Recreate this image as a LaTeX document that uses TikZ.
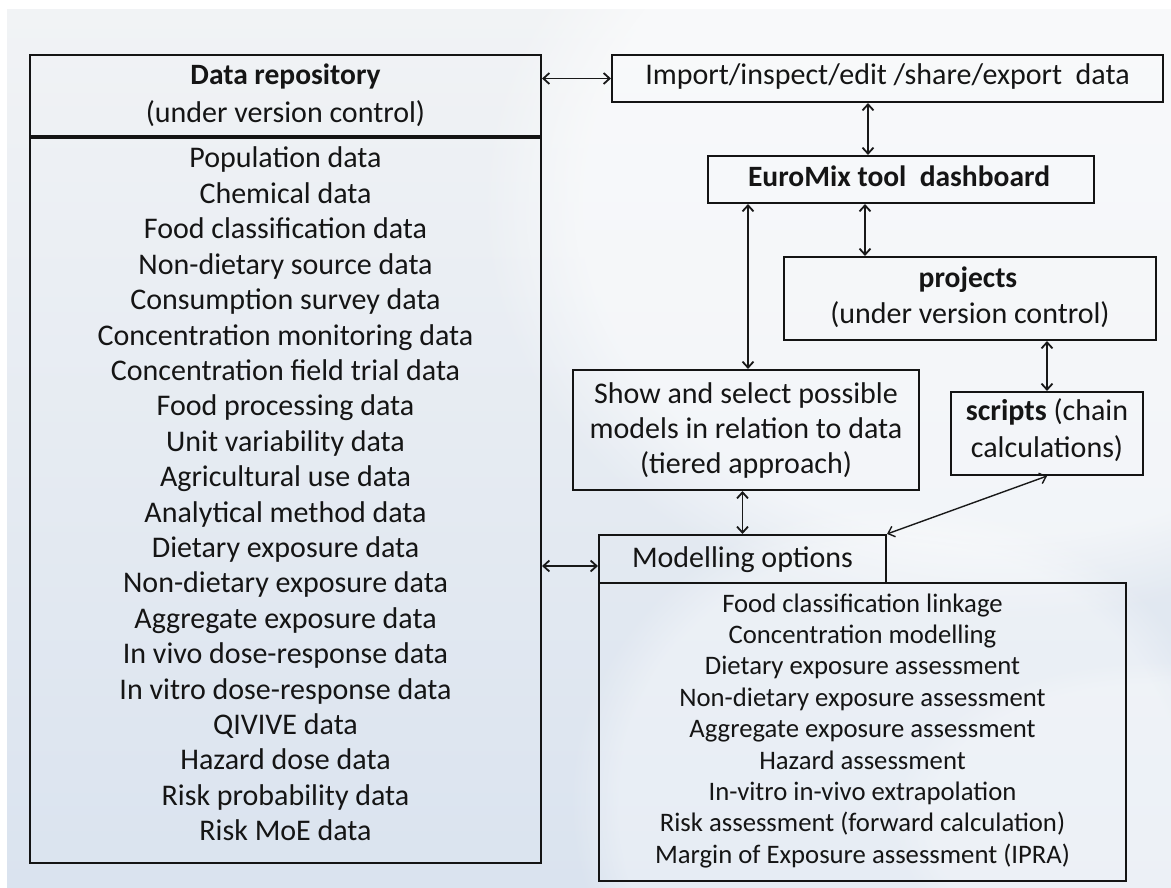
\documentclass[tikz,border=0pt]{standalone}
\usepackage{fontspec}
\setmainfont{Carlito}
\usetikzlibrary{arrows.meta,fadings}
\definecolor{bgtop}{HTML}{F1F3F5}
\definecolor{bgbot}{HTML}{DAE3EF}
\definecolor{ink}{HTML}{151515}
\begin{document}
\begin{tikzpicture}[x=1pt,y=-1pt,
  box/.style={draw=black!92, line width=2.1pt, inner sep=0pt, minimum width=#1},
  lbl/.style={anchor=base, inner sep=0pt, text=ink, font=\fontsize{30}{36}\selectfont},
  lblb/.style={lbl, font=\fontsize{29.5}{36}\selectfont\bfseries},
  optl/.style={anchor=base, inner sep=0pt, text=ink, font=\fontsize{26.7}{31}\selectfont},
  conn/.style={{Straight Barb[length=6pt,width=11pt]}-{Straight Barb[length=6pt,width=11pt]}, line width=1.8pt, draw=black!90}]
\useasboundingbox (0,0) rectangle (1171,888);
% backdrop
\fill[white] (0,0) rectangle (1171,888);
\begin{scope}
  \clip (7,10) rectangle (1171,888);
  \shade[top color=bgtop, bottom color=bgbot] (7,10) rectangle (1171,888);
  \fill[white, opacity=0.55, path fading=circle with fuzzy edge 20 percent] (1000,200) ellipse (520 and 420);
  \fill[white, opacity=0.35, path fading=circle with fuzzy edge 15 percent] (900,800) ellipse (330 and 300);
  \fill[white, opacity=0.25, path fading=circle with fuzzy edge 15 percent] (1150,820) ellipse (260 and 160);
\end{scope}

% data repository
\node[box=511pt, minimum height=81pt] (hdr) at (285.5,95.5) {};
\node[box=511pt, minimum height=725pt] (body) at (285.5,500.5) {};
\node[lblb] at (285.5,85) {Data repository};
\node[lbl] at (285.5,123) {(under version control)};
\foreach \t [count=\i from 0] in {Population data, Chemical data, Food classification data,
  Non-dietary source data, Consumption survey data, Concentration monitoring data,
  Concentration field trial data, Food processing data, Unit variability data,
  Agricultural use data, Analytical method data, Dietary exposure data,
  Non-dietary exposure data, Aggregate exposure data, In vivo dose-response data,
  In vitro dose-response data, QIVIVE data, Hazard dose data, Risk probability data,
  Risk MoE data}
  \node[lbl] (d\i) at (285.5,168+35.4*\i) {\t};

% right column boxes
\node[box=551pt, minimum height=47pt] (imp) at (887.5,78.5) {};
\node[lbl] at (887.5,85) {Import/inspect/edit /share/export~~data};
\node[box=386pt, minimum height=47pt] (dash) at (901,179.5) {};
\node[lblb] at (899,187) {EuroMix tool~~dashboard};
\node[box=372pt, minimum height=83pt] (proj) at (970,298.5) {};
\node[lblb] at (968,287) {projects};
\node[lbl] at (970,323) {(under version control)};
\node[box=192pt, minimum height=83pt] (scr) at (1047,433.5) {};
\node[lbl] at (1047,420) {\textbf{scripts} (chain};
\node[lbl] at (1047,457) {calculations)};
\node[box=346pt, minimum height=120pt] (show) at (746,430) {};
\node[lbl] at (746,403) {Show and select possible};
\node[lbl] at (746,438) {models in relation to data};
\node[lbl] at (746,473) {(tiered approach)};
\node[box=287pt, minimum height=48pt] (mod) at (742.5,559) {};
\node[lbl] at (742.5,567) {Modelling options};
\node[box=527pt, minimum height=298pt] (opts) at (862.5,732) {};
\foreach \t [count=\i from 0] in {Food classification linkage, Concentration modelling,
  Dietary exposure assessment, Non-dietary exposure assessment,
  Aggregate exposure assessment, Hazard assessment, In-vitro in-vivo extrapolation,
  Risk assessment (forward calculation), Margin of Exposure assessment (IPRA)}
  \node[optl] (o\i) at (862.5,612+31.4*\i) {\t};

% connectors
\coordinate (mw) at ([yshift=-7pt]mod.west);
\draw[conn] (hdr.east |- imp.west) -- (imp.west);
\draw[conn] ([xshift=-19.5pt]imp.south) -- ([xshift=-19.5pt]imp.south |- dash.north);
\draw[conn] ([xshift=-153pt]dash.south) -- ([xshift=-153pt]dash.south |- show.north);
\draw[conn] ([xshift=-36pt]dash.south) -- ([xshift=-36pt]dash.south |- proj.north);
\draw[conn] (scr.north |- proj.south) -- (scr.north);
\draw[conn] (mod.north |- show.south) -- (mod.north);
\draw[conn, line width=1.4pt] (scr.south) -- (mod.north east);
\draw[conn] (body.east |- mw) -- (mw);
\end{tikzpicture}
\end{document}
